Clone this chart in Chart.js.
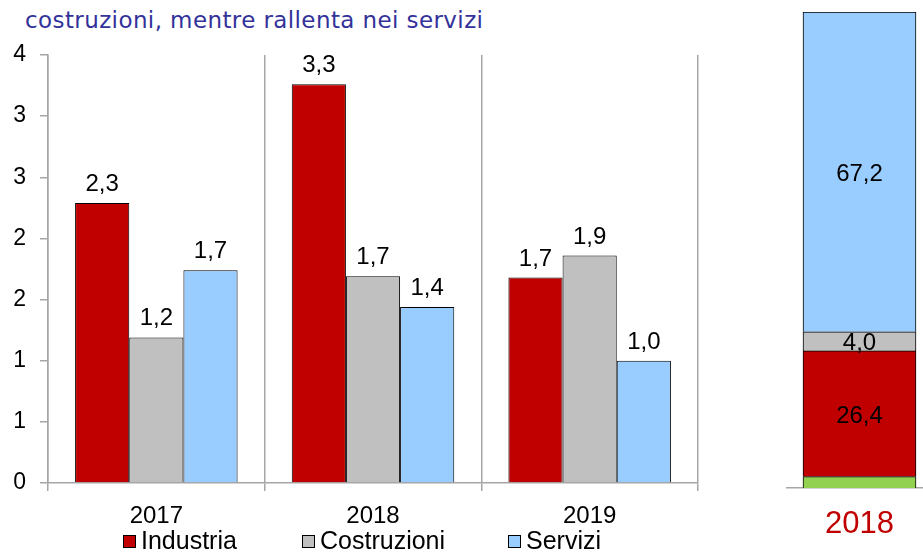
<!DOCTYPE html>
<html>
<head>
<meta charset="utf-8">
<script src="https://cdn.jsdelivr.net/npm/chart.js@4.4.1/dist/chart.umd.min.js"></script>
<style>
  html, body { margin: 0; padding: 0; background: #fff; overflow: hidden; }
  body { width: 923px; height: 553px; position: relative; font-family: "Liberation Sans", Arial, sans-serif; }
  #title { position: absolute; left: 25px; top: 9px; font-family: "DejaVu Sans", Verdana, sans-serif; font-size: 23px; line-height: 23px; letter-spacing: 0.4px; color: #32329a; white-space: nowrap; }
  #left { position: absolute; left: 0; top: 0; }
  #right { position: absolute; left: 786px; top: 0; }
  .leg { position: absolute; top: 528px; font-size: 25px; color: #000; white-space: nowrap; line-height: 25px; }
  .leg i { display: inline-block; width: 11px; height: 11px; border: 1px solid #000; margin-right: 5px; vertical-align: 1px; }
</style>
</head>
<body>
<div id="title">costruzioni, mentre rallenta nei servizi</div>
<canvas id="left" width="706" height="553"></canvas>
<canvas id="right" width="147" height="553"></canvas>
<div class="leg" style="left:123px"><i style="background:#c00000"></i>Industria</div>
<div class="leg" style="left:302px"><i style="background:#c0c0c0"></i>Costruzioni</div>
<div class="leg" style="left:508px"><i style="background:#99ccff"></i>Servizi</div>
<script>
'use strict'

// growth by sector (left) and share of value added 2018 (right)
const years = ['2017', '2018', '2019'];
const industria = [2.29, 3.26, 1.68];
const costruzioni = [1.19, 1.69, 1.86];
const servizi = [1.74, 1.44, 1.0];
const yTicks = [0, 0.5, 1, 1.5, 2, 2.5, 3, 3.5];

const shareYear = ['2018'];
const shareAgricoltura = [2.4];
const shareIndustria = [26.4];
const shareCostruzioni = [4.0];
const shareServizi = [67.2];

const fmt = v => v.toFixed(1).replace('.', ',');

const valueLabels = {
  id: 'valueLabels',
  afterDatasetsDraw(chart, args, opts) {
    let ctx = chart.ctx;
    ctx.save();
    ctx.font = '24px "Liberation Sans", Arial, sans-serif';
    ctx.fillStyle = '#000';
    ctx.textAlign = 'center';
    ctx.textBaseline = 'alphabetic';
    chart.data.datasets.forEach((ds, i) => {
      if (ds.noLabel) return;
      chart.getDatasetMeta(i).data.forEach((bar, j) => {
        let v = ds.data[j];
        if (opts.inside) {
          ctx.fillText(fmt(v), bar.x, (bar.y + bar.base) / 2 + 9);
        } else {
          ctx.fillText(fmt(v), bar.x, bar.y - 12);
        }
      });
    });
    ctx.restore();
  }
};

const gray = '#a6a6a6';

new Chart(document.getElementById('left'), {
  type: 'bar',
  plugins: [valueLabels],
  data: {
    labels: years,
    datasets: [
      { label: 'Industria', data: industria, backgroundColor: '#c00000', borderColor: '#000', borderWidth: 1 },
      { label: 'Costruzioni', data: costruzioni, backgroundColor: '#c0c0c0', borderColor: '#000', borderWidth: 1 },
      { label: 'Servizi', data: servizi, backgroundColor: '#99ccff', borderColor: '#000', borderWidth: 1 }
    ]
  },
  options: {
    responsive: false,
    animation: false,
    layout: { padding: { top: 55, right: 8, left: 0, bottom: 0 } },
    datasets: { bar: { categoryPercentage: 0.75, barPercentage: 1 } },
    plugins: {
      legend: { display: false },
      tooltip: { enabled: false },
      valueLabels: { inside: false }
    },
    scales: {
      x: {
        afterFit: s => { s.height = 70; },
        grid: { color: gray, lineWidth: 1.5, tickLength: 8, offset: true },
        border: { color: gray, width: 1.5 },
        ticks: { color: '#000', font: { size: 24, family: '"Liberation Sans", Arial' }, padding: 11 }
      },
      y: {
        min: 0, max: 3.5,
        afterFit: s => { s.width = 48; },
        afterBuildTicks: s => { s.ticks = yTicks.map(v => ({ value: v })); },
        grid: { drawOnChartArea: false, color: gray, lineWidth: 1.5, tickLength: 8 },
        border: { color: gray, width: 1.5 },
        ticks: { color: '#000', font: { size: 23, family: '"Liberation Sans", Arial' }, padding: 14,
          callback: v => Math.round(v) }
      }
    }
  }
});

new Chart(document.getElementById('right'), {
  type: 'bar',
  plugins: [valueLabels],
  data: {
    labels: shareYear,
    datasets: [
      { label: 'Agricoltura', data: shareAgricoltura, backgroundColor: '#92d050', borderColor: '#000', borderWidth: 1, noLabel: true },
      { label: 'Industria', data: shareIndustria, backgroundColor: '#c00000', borderColor: '#000', borderWidth: 1 },
      { label: 'Costruzioni', data: shareCostruzioni, backgroundColor: '#c0c0c0', borderColor: '#000', borderWidth: 1 },
      { label: 'Servizi', data: shareServizi, backgroundColor: '#99ccff', borderColor: '#000', borderWidth: 1 }
    ]
  },
  options: {
    responsive: false,
    animation: false,
    layout: { padding: { top: 12, right: 0, left: 0, bottom: 0 } },
    datasets: { bar: { barThickness: 113 } },
    plugins: {
      legend: { display: false },
      tooltip: { enabled: false },
      valueLabels: { inside: true }
    },
    scales: {
      x: {
        stacked: true,
        afterFit: s => { s.height = 65; },
        grid: { display: false },
        border: { color: gray, width: 1.5 },
        ticks: { color: '#c00000', font: { size: 31, family: '"Liberation Sans", Arial' }, padding: 10 }
      },
      y: {
        stacked: true, min: 0, max: 100,
        display: false
      }
    }
  }
});
</script>
</body>
</html>
